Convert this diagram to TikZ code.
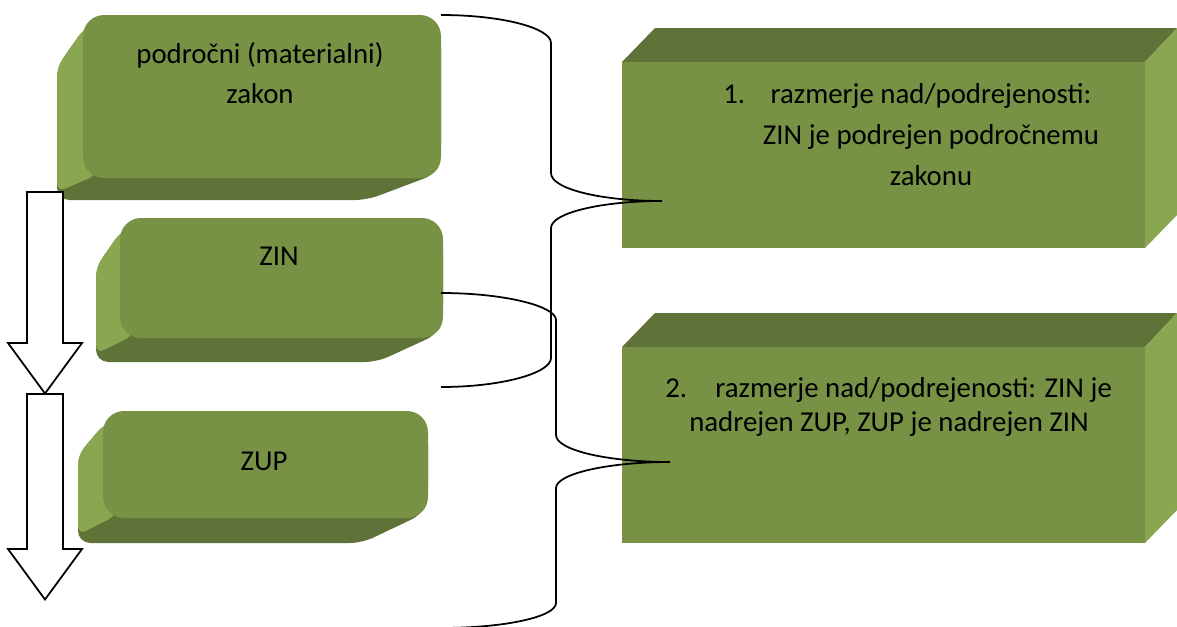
\documentclass[tikz,border=0pt]{standalone}
\usepackage{fontspec}
\setmainfont{Carlito}
\usepackage{tikz}

\definecolor{olivefront}{RGB}{119,146,68}
\definecolor{olivedark}{RGB}{95,114,55}
\definecolor{olivelight}{RGB}{137,166,80}

\tikzset{
  txt/.style={font=\fontsize{16.4pt}{#1}\selectfont, inner sep=0pt, align=center},
  txt/.default=23pt,
  brace/.style={draw=black, line width=1pt},
  blockarrow/.style={draw=black, fill=white, line width=1pt, line join=miter},
}

\newcommand{\greenblock}[8]{%
  \fill[olivedark, rounded corners=7pt] (#1+2,#2+12) -- (#5,#7) -- (#5,#6) -- (#8,#6)
    -- (#3-5,#4-4) -- (#3,#4-20) -- (#3,#2+20) -- cycle;
  \fill[olivelight, rounded corners=5pt] (#1+2,#2+12) -- (#5,#7) -- (#5,#6-8)
    -- (#1+14,#4-3) -- (#1+14,#2+12) -- cycle;
  \fill[olivefront, rounded corners=12pt] (#1,#2) rectangle (#3,#4);
}

\begin{document}
\begin{tikzpicture}[x=0.02cm, y=-0.02cm]
\useasboundingbox (0,0) rectangle (1177,626);

\greenblock{83}{15}{441}{178}{57}{200}{67}{367}
\greenblock{120}{218}{443}{338}{96}{362}{267}{377}
\greenblock{103}{411}{428}{518}{78}{543}{455}{362}

\foreach \top/\bot in {62/248, 347/543} {
  \fill[olivedark] (622,\top) -- (655,\top-34) -- (1177,\top-34) -- (1145,\top) -- cycle;
  \fill[olivelight] (1145,\top) -- (1177,\top-34) -- (1177,\bot-33) -- (1145,\bot) -- cycle;
  \fill[olivefront] (622,\top) rectangle (1145,\bot);
}

\foreach \top/\bot in {192/343, 394/549}
  \draw[blockarrow] (27,\top) -- (63,\top) -- (63,\bot) -- (82,\bot) -- (45,\bot+50.5)
    -- (8,\bot) -- (27,\bot) -- cycle;

\node[txt=22.7pt, anchor=base] (law) at (260,103) {področni (materialni)\\zakon};
\node[txt, anchor=base] (zin) at (279,265) {ZIN};
\node[txt, anchor=base] (zup) at (264,470) {ZUP};

\node[txt, anchor=base west] (num1) at (723,103) {1.};
\node[txt=23.2pt, anchor=base] (rel1) at (931,185) {razmerje nad/podrejenosti:\\ZIN je podrejen področnemu\\zakonu};
\node[txt, anchor=base west] (num2) at (665,397) {2.};
\node[txt=19.3pt, anchor=base] (rel2) at (889,431) {\hspace*{28pt}razmerje nad/podrejenosti: ZIN je\\nadrejen ZUP, ZUP je nadrejen ZIN};

\coordinate (b1top) at (441,15);
\coordinate (b1tip) at (662,201);
\coordinate (b1bot) at (441,387);
\coordinate (b2top) at (441,293);
\coordinate (b2tip) at (670,462);
\coordinate (b2bot) at (441,628);

\draw[brace] (b1top) .. controls (502,15) and (551,28) .. (551,43) -- (551,173)
  .. controls (551,189) and (601,201) .. (b1tip)
  .. controls (601,201) and (551,213) .. (551,228) -- (551,358)
  .. controls (551,373) and (502,387) .. (b1bot);
\draw[brace] (b2top) .. controls (504,293) and (556,306) .. (556,320) -- (556,435)
  .. controls (556,450) and (607,462) .. (b2tip)
  .. controls (607,462) and (556,474) .. (556,488) -- (556,603)
  .. controls (556,617) and (504,628) .. (b2bot);
\end{tikzpicture}
\end{document}
